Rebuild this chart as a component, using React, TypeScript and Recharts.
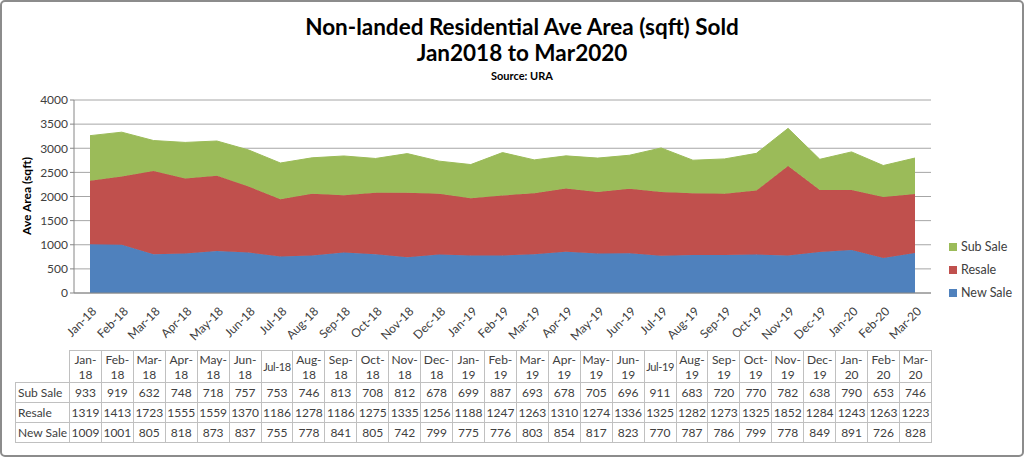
import { AreaChart, Area, XAxis, YAxis, CartesianGrid } from "recharts";

const months = [
  "Jan-18", "Feb-18", "Mar-18", "Apr-18", "May-18", "Jun-18", "Jul-18", "Aug-18", "Sep-18",
  "Oct-18", "Nov-18", "Dec-18", "Jan-19", "Feb-19", "Mar-19", "Apr-19", "May-19", "Jun-19",
  "Jul-19", "Aug-19", "Sep-19", "Oct-19", "Nov-19", "Dec-19", "Jan-20", "Feb-20", "Mar-20",
];

const subSale = [933, 919, 632, 748, 718, 757, 753, 746, 813, 708, 812, 678, 699, 887, 693, 678, 705, 696, 911, 683, 720, 770, 782, 638, 790, 653, 746];
const resale = [1319, 1413, 1723, 1555, 1559, 1370, 1186, 1278, 1186, 1275, 1335, 1256, 1188, 1247, 1263, 1310, 1274, 1336, 1325, 1282, 1273, 1325, 1852, 1284, 1243, 1263, 1223];
const newSale = [1009, 1001, 805, 818, 873, 837, 755, 778, 841, 805, 742, 799, 775, 776, 803, 854, 817, 823, 770, 787, 786, 799, 778, 849, 891, 726, 828];

const yTicks = [0, 500, 1000, 1500, 2000, 2500, 3000, 3500, 4000];

const series = [
  { key: "subSale", name: "Sub Sale", color: "#9BBB59", values: subSale },
  { key: "resale", name: "Resale", color: "#C0504D", values: resale },
  { key: "newSale", name: "New Sale", color: "#4F81BD", values: newSale },
];

const data = months.map((m, i) => ({
  month: m,
  newSale: newSale[i],
  resale: resale[i],
  subSale: subSale[i],
}));

const FONT = "Lato, 'Open Sans', sans-serif";
const TEXT = "#404040";

const XTick = (props: any) => {
  const { x, y, payload } = props;
  return (
    <g transform={`translate(${x + 5},${y + 9})`}>
      <text textAnchor="end" transform="rotate(-45)" fontSize={12} fill={TEXT} fontFamily={FONT} dy={3}>
        {payload.value}
      </text>
    </g>
  );
};

const cell: React.CSSProperties = {
  border: "1px solid #C0C0C0",
  padding: 0,
  textAlign: "center",
  height: 19,
};

export default function App() {
  return (
    <div
      style={{
        position: "absolute",
        left: 0,
        top: 0,
        width: 1024,
        height: 457,
        boxSizing: "border-box",
        border: "2px solid #8C8C8C",
        borderRadius: 5,
        background: "#fff",
        fontFamily: FONT,
        color: TEXT,
        overflow: "hidden",
      }}
    >
      <div style={{ position: "absolute", left: 0, top: 0, width: 1040, textAlign: "center", color: "#000" }}>
        <div style={{ position: "absolute", top: 11, width: "100%", fontSize: 22.5, fontWeight: 700 }}>
          Non-landed Residential Ave Area (sqft) Sold
        </div>
        <div style={{ position: "absolute", top: 37, width: "100%", fontSize: 22.5, fontWeight: 700 }}>
          Jan2018 to Mar2020
        </div>
        <div style={{ position: "absolute", top: 67, width: "100%", fontSize: 11, fontWeight: 700 }}>
          Source: URA
        </div>
      </div>

      <div
        style={{
          position: "absolute",
          left: 24,
          top: 194,
          transform: "translate(-50%, -50%) rotate(-90deg)",
          fontSize: 12,
          fontWeight: 700,
          color: "#000",
          whiteSpace: "nowrap",
        }}
      >
        Ave Area (sqft)
      </div>

      <div style={{ position: "absolute", left: -2, top: -2 }}>
        <AreaChart width={1024} height={345} data={data} margin={{ top: 100, right: 93, bottom: 0, left: 0 }}>
          <CartesianGrid vertical={false} stroke="#A6A6A6" />
          <XAxis
            dataKey="month"
            interval={0}
            padding={{ left: 16, right: 16 }}
            height={52}
            tick={<XTick />}
            tickLine={false}
            axisLine={{ stroke: "#868686" }}
          />
          <YAxis
            width={74}
            domain={[0, 4000]}
            ticks={yTicks}
            interval={0}
            tick={{ fontSize: 12, fill: TEXT, fontFamily: FONT }}
            tickLine={{ stroke: "#868686" }}
            tickSize={4}
            axisLine={{ stroke: "#868686" }}
          />
          {[...series].reverse().map((s) => (
            <Area
              key={s.key}
              type="linear"
              dataKey={s.key}
              name={s.name}
              stackId="a"
              fill={s.color}
              fillOpacity={1}
              stroke={s.color}
              isAnimationActive={false}
            />
          ))}
        </AreaChart>
      </div>

      <div style={{ position: "absolute", left: 947, top: 233, fontSize: 12.5 }}>
        {series.map((s) => (
          <div key={s.key} style={{ display: "flex", alignItems: "center", height: 23 }}>
            <span style={{ width: 8, height: 8, background: s.color, marginRight: 4 }} />
            {s.name}
          </div>
        ))}
      </div>

      <table
        style={{
          position: "absolute",
          left: 13,
          top: 348,
          width: 917,
          borderCollapse: "collapse",
          tableLayout: "fixed",
          fontSize: 12,
          color: TEXT,
        }}
      >
        <colgroup>
          <col style={{ width: 54 }} />
          {months.map((m) => (
            <col key={m} />
          ))}
        </colgroup>
        <tbody>
          <tr>
            <td style={{ ...cell, border: "none", borderRight: "1px solid #C0C0C0" }} />
            {months.map((m) => (
              <td
                key={m}
                style={{
                  ...cell,
                  height: 31,
                  lineHeight: "15px",
                  ...(m.startsWith("Jul")
                    ? { whiteSpace: "nowrap", fontSize: 11, letterSpacing: -0.4, overflow: "hidden" }
                    : {}),
                }}
              >
                {m}
              </td>
            ))}
          </tr>
          {series.map((s) => (
            <tr key={s.key}>
              <td style={{ ...cell, textAlign: "left", paddingLeft: 2, whiteSpace: "nowrap" }}>{s.name}</td>
              {s.values.map((v, i) => (
                <td key={i} style={cell}>
                  {v}
                </td>
              ))}
            </tr>
          ))}
        </tbody>
      </table>
    </div>
  );
}
